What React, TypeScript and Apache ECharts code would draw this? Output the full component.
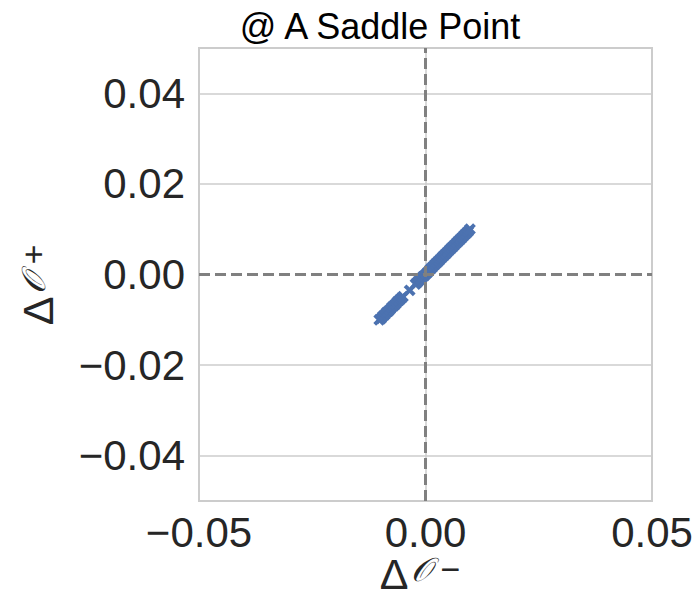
import React, { useEffect, useRef } from "react";
import * as echarts from "echarts";

const TITLE = "@ A Saddle Point";
const X_NAME = "{d|Δ}{s|𝒪}{m|−}";
const Y_NAME = "{d|Δ}{s|𝒪}{m|+}";
const X_TICKS = [-0.05, 0, 0.05];
const Y_TICKS = [-0.04, -0.02, 0, 0.02, 0.04];
const X_VALUES = [
  -0.0102, -0.0098, -0.0094, -0.009, -0.0086, -0.0082, -0.0078, -0.0074, -0.007, -0.0066,
  -0.0062, -0.0058, -0.0054, -0.005, -0.0035, -0.0022, -0.0018, -0.0014, -0.001, -0.0006,
  -0.0002, 0.0002, 0.0006, 0.001, 0.0014, 0.0018, 0.0022, 0.0026, 0.003, 0.0034,
  0.0038, 0.0042, 0.0046, 0.005, 0.0054, 0.0058, 0.0062, 0.0066, 0.007, 0.0074,
  0.0078, 0.0082, 0.0086, 0.009, 0.0094, 0.0098,
];
const Y_VALUES = [
  -0.01, -0.0097, -0.0092, -0.0089, -0.0084, -0.0081, -0.0077, -0.0072, -0.0069, -0.0065,
  -0.006, -0.0057, -0.0053, -0.0049, -0.0035, -0.0021, -0.0017, -0.0013, -0.001, -0.0005,
  -0.0002, 0.0002, 0.0006, 0.0011, 0.0015, 0.0019, 0.0023, 0.0027, 0.0031, 0.0035,
  0.0039, 0.0043, 0.0047, 0.0051, 0.0055, 0.0059, 0.0063, 0.0067, 0.0071, 0.0075,
  0.0079, 0.0083, 0.0087, 0.0091, 0.0095, 0.01,
];

const FONT = "Liberation Sans, Arial, sans-serif";
const TEXT = "#262626";
const GRID = "#cccccc";

const fmt = (v: number) => {
  const s = Math.abs(v).toFixed(2);
  return v < -1e-9 ? "\u2212" + s : s;
};

const nameRich = {
  d: { fontSize: 43, fontFamily: FONT, fill: TEXT, color: TEXT },
  s: {
    fontSize: 33,
    fontFamily: "DejaVu Serif, serif",
    fontStyle: "italic",
    fill: TEXT,
    color: TEXT,
    padding: [0, 0, 10, 3],
  },
  m: { fontSize: 34, fontFamily: FONT, fill: TEXT, color: TEXT, padding: [0, 0, 10, 8] },
};

export default function App() {
  const ref = useRef<HTMLDivElement>(null);
  useEffect(() => {
    if (!ref.current) return;
    const chart = echarts.init(ref.current, null, { renderer: "svg" });
    const points = X_VALUES.map((x, i) => [x, Y_VALUES[i]]);
    chart.setOption({
      animation: false,
      backgroundColor: "#ffffff",
      graphic: [
        {
          type: "text",
          x: 380,
          y: 26,
          style: {
            text: TITLE,
            font: `36px ${FONT}`,
            fill: "#000000",
            textAlign: "center",
            textVerticalAlign: "middle",
          },
        },
        {
          type: "text",
          x: 420,
          y: 574,
          style: {
            text: X_NAME,
            rich: nameRich,
            fill: TEXT,
            textAlign: "center",
            textVerticalAlign: "middle",
          },
        },
        {
          type: "text",
          x: 38,
          y: 285,
          rotation: Math.PI / 2,
          style: {
            text: Y_NAME,
            rich: nameRich,
            fill: TEXT,
            textAlign: "center",
            textVerticalAlign: "middle",
          },
        },
      ],
      grid: {
        left: 199,
        top: 48,
        width: 453,
        height: 453,
        containLabel: false,
        outerBoundsMode: "none",
        show: true,
        borderColor: GRID,
        borderWidth: 2,
        backgroundColor: "#ffffff",
      },
      xAxis: {
        type: "value",
        min: -0.05,
        max: 0.05,
        interval: 0.05,
        axisLine: { show: false },
        axisTick: { show: false },
        splitLine: { show: true, lineStyle: { color: GRID, width: 1.5 } },
        axisLabel: {
          formatter: (v: number) => fmt(v),
          fontSize: 42,
          fontFamily: FONT,
          color: TEXT,
          margin: 10,
        },
      },
      yAxis: {
        type: "value",
        min: -0.05,
        max: 0.05,
        interval: 0.01,
        axisLine: { show: false },
        axisTick: { show: false },
        splitLine: { show: false },
        axisLabel: {
          formatter: (v: number) =>
            Y_TICKS.some((t) => Math.abs(t - v) < 1e-9) ? fmt(v) : "",
          fontSize: 42,
          fontFamily: FONT,
          color: TEXT,
          margin: 14,
        },
      },
      series: [
        {
          type: "scatter",
          data: [],
          z: 1,
          silent: true,
          markLine: {
            silent: true,
            symbol: "none",
            label: { show: false },
            lineStyle: { color: GRID, width: 1.5, type: "solid" },
            data: Y_TICKS.filter((t) => t !== 0).map((t) => ({ yAxis: t })),
          },
        },
        {
          type: "scatter",
          data: [],
          z: 2,
          silent: true,
          markLine: {
            silent: true,
            symbol: "none",
            label: { show: false },
            lineStyle: { color: "#808080", width: 3, type: [11, 5] },
            data: [{ xAxis: 0 }, { yAxis: 0 }],
          },
        },
        {
          type: "scatter",
          z: 3,
          data: points,
          symbol: "path://M3.5,0H6.5V3.5H10V6.5H6.5V10H3.5V6.5H0V3.5H3.5Z",
          symbolRotate: 45,
          symbolSize: 13,
          itemStyle: { color: "#4c72b0", opacity: 1 },
        },
      ],
    });
    return () => chart.dispose();
  }, []);
  return (
    <div
      ref={ref}
      style={{ position: "fixed", left: 0, top: 0, width: 695, height: 597 }}
    />
  );
}
